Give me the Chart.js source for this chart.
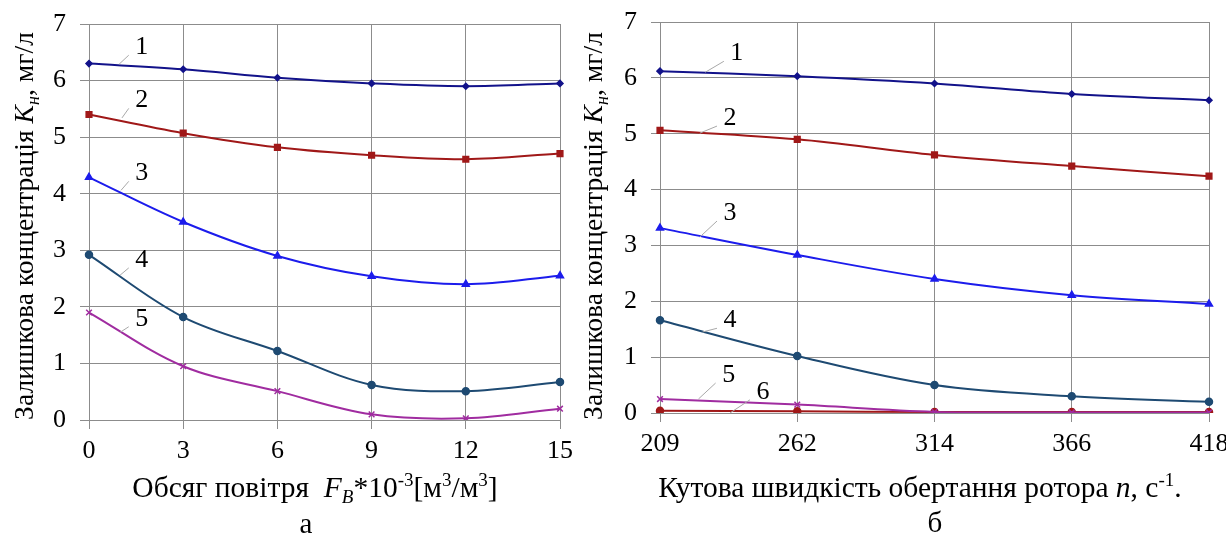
<!DOCTYPE html>
<html>
<head>
<meta charset="utf-8">
<script src="https://cdn.jsdelivr.net/npm/chart.js@4/dist/chart.umd.min.js"></script>
<style>
  body { margin: 0; background: #fff; }
  #wrap { position: relative; width: 1226px; height: 536px; overflow: hidden; }
  canvas { position: absolute; top: 0; }
</style>
</head>
<body>
<div id="wrap">
  <canvas id="chartA" width="580" height="536" style="left:0"></canvas>
  <canvas id="chartB" width="651" height="536" style="left:575px"></canvas>
</div>
<script>
// --- chart a: air volume ---
const airLabels = ['0', '3', '6', '9', '12', '15'];
const airK1 = [6.3, 6.2, 6.05, 5.95, 5.9, 5.95];
const airK2 = [5.4, 5.07, 4.82, 4.68, 4.61, 4.71];
const airK3 = [4.29, 3.5, 2.9, 2.54, 2.4, 2.55];
const airK4 = [2.92, 1.82, 1.22, 0.62, 0.51, 0.67];
const airK5 = [1.9, 0.95, 0.51, 0.1, 0.03, 0.2];

// --- chart б: rotor speed ---
const rotorLabels = ['209', '262', '314', '366', '418'];
const rotorK1 = [6.12, 6.03, 5.9, 5.71, 5.6];
const rotorK2 = [5.06, 4.9, 4.62, 4.42, 4.24];
const rotorK3 = [3.31, 2.83, 2.4, 2.11, 1.95];
const rotorK4 = [1.66, 1.02, 0.5, 0.3, 0.2];
const rotorK5 = [0.25, 0.15, 0.02, 0.01, 0.01];
const rotorK6 = [0.04, 0.03, 0.02, 0.02, 0.02];

const yTicks = [0, 1, 2, 3, 4, 5, 6, 7];

// curve callouts: [label, curve x-index, curve y, text x-index, text y]
const airCallouts = [
  ['1', 0.32, 6.29, 0.56, 6.59],
  ['2', 0.35, 5.34, 0.56, 5.65],
  ['3', 0.34, 4.06, 0.56, 4.36],
  ['4', 0.33, 2.56, 0.56, 2.83],
  ['5', 0.33, 1.55, 0.56, 1.79]
];
const rotorCallouts = [
  ['1', 0.33, 6.1, 0.56, 6.44],
  ['2', 0.29, 5.01, 0.51, 5.28],
  ['3', 0.29, 3.15, 0.51, 3.58],
  ['4', 0.31, 1.45, 0.51, 1.66],
  ['5', 0.28, 0.25, 0.5, 0.68],
  ['6', 0.51, 0.0, 0.75, 0.38]
];

const SERIF = '"Liberation Serif", "Times New Roman", serif';
const GRID = '#8c8c8c';

const styles = [
  { color: '#12128a', point: 'rectRot', r: 3 },
  { color: '#a01818', point: 'rect', r: 4 },
  { color: '#1c1cec', point: 'triangle', r: 4 },
  { color: '#1e4a72', point: 'circle', r: 3.5 },
  { color: '#a02ca0', point: 'crossRot', r: 4 },
  { color: '#a01818', point: 'circle', r: 3.5 }
];

function makeDataset(values, i) {
  const s = styles[i];
  return {
    data: values,
    borderColor: s.color,
    backgroundColor: s.color,
    borderWidth: 2,
    pointStyle: s.point,
    pointRadius: s.r,
    pointBorderWidth: 1.5,
    tension: 0.35,
    fill: false
  };
}

// draws a run of text pieces (italic / sub / sup) centred on x
function drawRich(ctx, segs, x, y, size) {
  const fontFor = seg => {
    const sz = (seg.sub || seg.sup) ? Math.round(size * 0.66) : size;
    return (seg.it ? 'italic ' : '') + sz + 'px ' + SERIF;
  };
  let total = 0;
  segs.forEach(seg => { ctx.font = fontFor(seg); total += ctx.measureText(seg.t).width; });
  let cx = x - total / 2;
  ctx.textAlign = 'left';
  ctx.textBaseline = 'alphabetic';
  segs.forEach(seg => {
    ctx.font = fontFor(seg);
    let dy = 0;
    if (seg.sub) dy = size * 0.2;
    if (seg.sup) dy = -size * 0.38;
    ctx.fillText(seg.t, cx, y + dy);
    cx += ctx.measureText(seg.t).width;
  });
}

const decorPlugin = {
  id: 'decor',
  afterDraw(chart, args, opts) {
    const ctx = chart.ctx;
    const xs = chart.scales.x, ys = chart.scales.y;
    ctx.save();
    ctx.fillStyle = '#000';
    // callouts
    opts.callouts.forEach(c => {
      const x0 = xs.getPixelForValue(c[1]), y0 = ys.getPixelForValue(c[2]);
      const tx = xs.getPixelForValue(c[3]), ty = ys.getPixelForValue(c[4]);
      ctx.strokeStyle = '#a8a8a8';
      ctx.lineWidth = 1;
      ctx.beginPath();
      ctx.moveTo(x0, y0);
      ctx.lineTo(tx - 13, ty + 8);
      ctx.stroke();
      ctx.font = '26px ' + SERIF;
      ctx.textAlign = 'center';
      ctx.textBaseline = 'middle';
      ctx.fillText(c[0], tx, ty);
    });
    // axis titles
    drawRich(ctx, opts.xTitle, opts.xTitleX, opts.xTitleY, 29.5);
    drawRich(ctx, [{ t: opts.letter }], opts.letterX, opts.letterY, 29);
    ctx.save();
    ctx.translate(opts.yTitleX, opts.yTitleY);
    ctx.rotate(-Math.PI / 2);
    drawRich(ctx, opts.yTitle, 0, 0, 27.6);
    ctx.restore();
    ctx.restore();
  }
};

const yTitleSegs = [
  { t: 'Залишкова концентрація ' },
  { t: 'K', it: true },
  { t: 'н', it: true, sub: true },
  { t: ', мг/л' }
];

function makeChart(id, labels, series, callouts, extra, padRight, xHeight, yWidth) {
  return new Chart(document.getElementById(id), {
    type: 'line',
    data: { labels: labels, datasets: series.map(makeDataset) },
    options: {
      responsive: false,
      animation: false,
      devicePixelRatio: 1,
      layout: { padding: { left: 0, right: padRight, top: extra.top, bottom: 0 } },
      plugins: {
        legend: { display: false },
        tooltip: { enabled: false },
        decor: Object.assign({ callouts: callouts, yTitle: yTitleSegs }, extra)
      },
      scales: {
        x: {
          type: 'category',
          offset: false,
          grid: { color: GRID, lineWidth: 1, tickLength: 9 },
          border: { color: GRID },
          ticks: { color: '#000', padding: 7, maxRotation: 0, font: { family: SERIF, size: 26 } },
          afterFit(s) { s.height = xHeight; s.paddingLeft = 0; s.paddingRight = 0; }
        },
        y: {
          min: 0,
          max: 7,
          afterBuildTicks(s) { s.ticks = yTicks.map(v => ({ value: v })); },
          grid: { color: GRID, lineWidth: 1, tickLength: 9 },
          border: { color: GRID },
          ticks: { color: '#000', padding: 14, font: { family: SERIF, size: 26 } },
          afterFit(s) { s.width = yWidth; s.paddingTop = 0; s.paddingBottom = 0; }
        }
      }
    },
    plugins: [decorPlugin]
  });
}

makeChart('chartA', airLabels, [airK1, airK2, airK3, airK4, airK5], airCallouts, {
  top: 24,
  xTitle: [
    { t: 'Обсяг повітря  ' }, { t: 'F', it: true }, { t: 'B', it: true, sub: true },
    { t: '*10' }, { t: '-3', sup: true }, { t: '[м' }, { t: '3', sup: true },
    { t: '/м' }, { t: '3', sup: true }, { t: ']' }
  ],
  xTitleX: 315, xTitleY: 497,
  letter: 'а', letterX: 306, letterY: 533,
  yTitleX: 33, yTitleY: 226
}, 20, 116, 89);

makeChart('chartB', rotorLabels, [rotorK1, rotorK2, rotorK3, rotorK4, rotorK5, rotorK6], rotorCallouts, {
  top: 22,
  xTitle: [
    { t: 'Кутова швидкість обертання ротора ' }, { t: 'n', it: true },
    { t: ', с' }, { t: '-1', sup: true }, { t: '.' }
  ],
  xTitleX: 345, xTitleY: 497,
  letter: 'б', letterX: 360, letterY: 532,
  yTitleX: 27, yTitleY: 226
}, 17, 123, 85);
</script>
</body>
</html>
